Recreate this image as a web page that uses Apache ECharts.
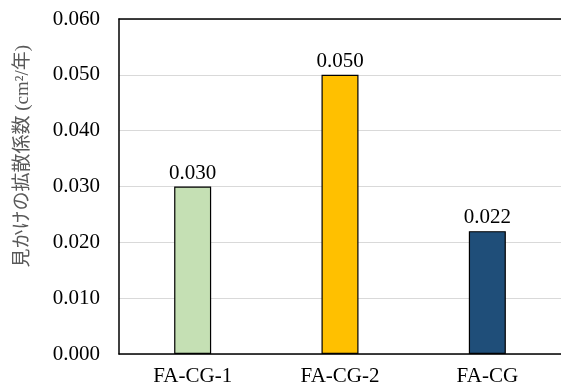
<!DOCTYPE html>
<html>
<head>
<meta charset="utf-8">
<script src="https://cdn.jsdelivr.net/npm/echarts@6/dist/echarts.min.js"></script>
<style>
  html, body { margin: 0; padding: 0; background: #fff; }
  #chart { width: 561px; height: 390px; }
</style>
</head>
<body>
<div id="chart"></div>
<script>
// Apparent diffusion coefficient per specimen
const categories = ['FA-CG-1', 'FA-CG-2', 'FA-CG'];
const values = [0.030, 0.050, 0.022];
const barColors = ['#C5E0B4', '#FFC000', '#1F4E79'];
const yTicks = { min: 0, max: 0.06, interval: 0.01 };
const yTitle = '見かけの拡散係数 (cm²/年)';

const serif = "'Liberation Serif', 'Times New Roman', serif";
const chart = echarts.init(document.getElementById('chart'), null, { renderer: 'canvas' });

chart.setOption({
  animation: false,
  backgroundColor: '#ffffff',
  grid: { left: 119, right: -4, top: 19, bottom: 36, containLabel: false },
  xAxis: [
    {
      type: 'category',
      data: categories,
      axisLine: { lineStyle: { color: '#000', width: 1.5 } },
      axisTick: { show: false },
      axisLabel: { color: '#000', fontFamily: serif, fontSize: 21, margin: 12 }
    },
    {
      type: 'category',
      position: 'top',
      data: categories,
      axisLine: { lineStyle: { color: '#000', width: 1.5 } },
      axisTick: { show: false },
      axisLabel: { show: false }
    }
  ],
  yAxis: {
    type: 'value',
    min: yTicks.min,
    max: yTicks.max,
    interval: yTicks.interval,
    axisLine: { show: true, lineStyle: { color: '#000', width: 1.5 } },
    axisTick: { show: false },
    splitLine: { lineStyle: { color: '#D9D9D9', width: 1 } },
    axisLabel: {
      color: '#000',
      fontFamily: serif,
      fontSize: 21,
      margin: 19,
      formatter: v => v.toFixed(3)
    }
  },
  series: [{
    type: 'bar',
    barWidth: 37,
    data: values.map((v, i) => ({
      value: v,
      itemStyle: { color: barColors[i], borderColor: '#000', borderWidth: 1.2 }
    })),
    label: {
      show: true,
      position: 'top',
      distance: 3,
      color: '#000',
      fontFamily: serif,
      fontSize: 21,
      formatter: p => p.value.toFixed(3)
    }
  }],
  graphic: [{
    type: 'text',
    left: 14,
    top: 45,
    rotation: Math.PI / 2,
    style: {
      text: yTitle,
      fill: '#595959',
      font: "19px 'Liberation Serif', 'Noto Sans CJK JP', sans-serif"
    }
  }]
});
</script>
</body>
</html>
